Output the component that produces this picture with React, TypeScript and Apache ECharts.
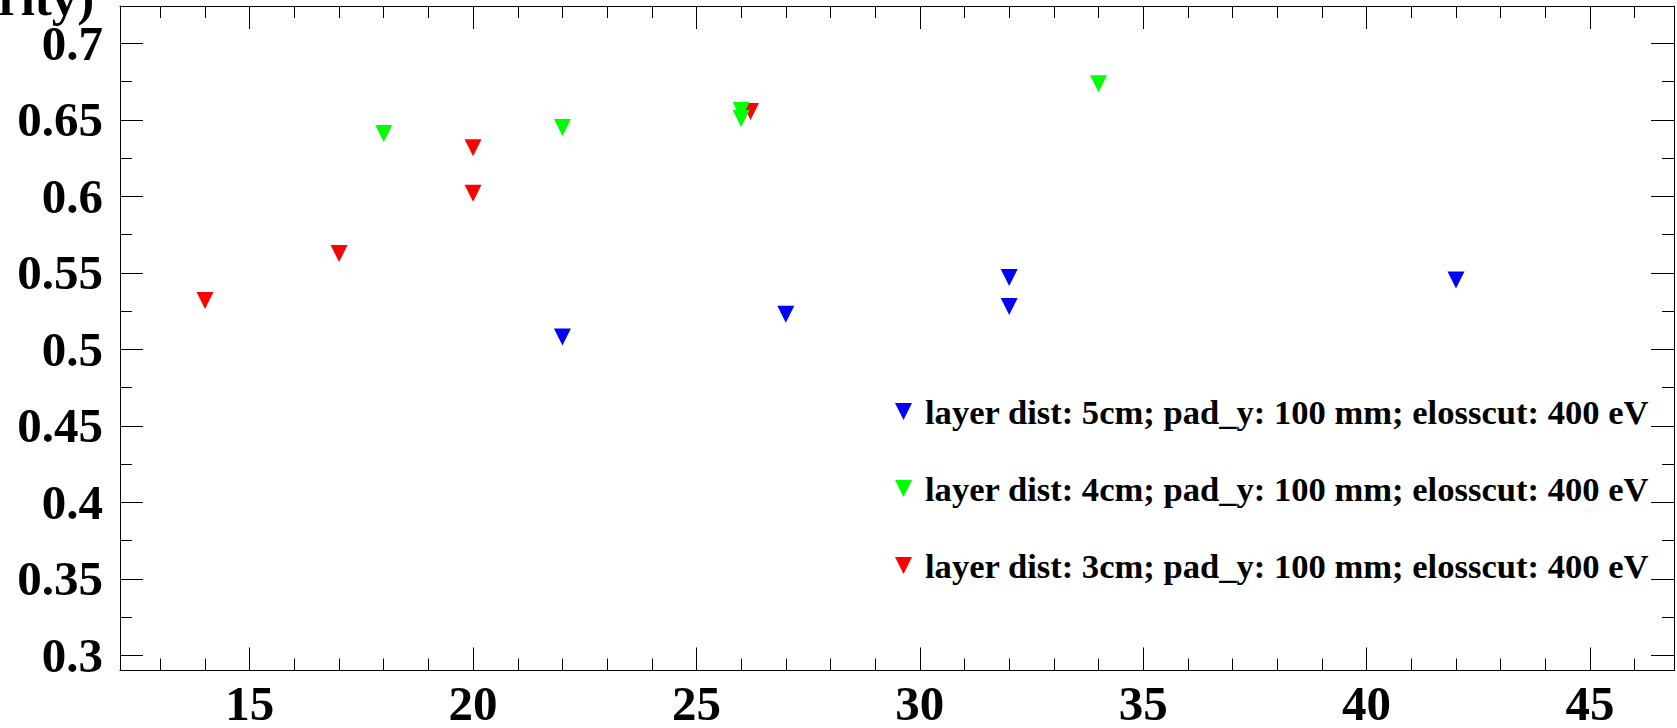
import React, { useEffect, useRef } from "react";
import * as echarts from "echarts";

// ---- data ----
const blueX = [22, 27, 32, 32, 42];
const blueY = [0.508, 0.523, 0.547, 0.528, 0.5453];
const greenX = [18, 22, 26, 26, 34];
const greenY = [0.641, 0.645, 0.656, 0.6508, 0.6735];
const redX = [14, 17, 20, 20, 26.21];
const redY = [0.532, 0.5626, 0.602, 0.6317, 0.6554];

const blueName = "layer dist: 5cm; pad_y: 100 mm; elosscut: 400 eV";
const greenName = "layer dist: 4cm; pad_y: 100 mm; elosscut: 400 eV";
const redName = "layer dist: 3cm; pad_y: 100 mm; elosscut: 400 eV";

const xRange = [12.097, 46.88];
const yRange = [0.29022, 0.72431];
const xStep = 5;
const yStep = 0.05;
const yAxisTitle = "rity)";

const FONT = "Liberation Serif";
const TRI = "path://M0,0L10,0L5,10Z";

function isMultiple(v: number, step: number) {
  const r = v / step;
  return Math.abs(r - Math.round(r)) < 1e-6;
}

function makeAxisX(position: "bottom" | "top", showLabel: boolean) {
  return {
    type: "value",
    position,
    min: xRange[0],
    max: xRange[1],
    minInterval: xStep,
    maxInterval: xStep,
    splitNumber: 6,
    axisLine: { show: true, onZero: false, lineStyle: { color: "#000", width: 1 } },
    axisTick: { show: true, inside: true, length: 23, lineStyle: { color: "#000", width: 1 } },
    minorTick: { show: true, splitNumber: 5, length: 12, lineStyle: { color: "#000", width: 1 } },
    splitLine: { show: false },
    minorSplitLine: { show: false },
    axisLabel: {
      show: showLabel,
      margin: 15,
      color: "#000",
      fontFamily: FONT,
      fontWeight: "bold",
      fontSize: 49,
      lineHeight: 36,
      hideOverlap: false,
      formatter: (v: number) => (isMultiple(v, xStep) ? String(Math.round(v)) : ""),
    },
  };
}

function makeAxisY(position: "left" | "right", showLabel: boolean) {
  return {
    type: "value",
    position,
    min: yRange[0],
    max: yRange[1],
    minInterval: yStep,
    maxInterval: yStep,
    splitNumber: 8,
    axisLine: { show: true, onZero: false, lineStyle: { color: "#000", width: 1 } },
    axisTick: { show: true, inside: true, length: 23, lineStyle: { color: "#000", width: 1 } },
    minorTick: { show: true, splitNumber: 2, length: 12, lineStyle: { color: "#000", width: 1 } },
    splitLine: { show: false },
    minorSplitLine: { show: false },
    axisLabel: {
      show: showLabel,
      margin: 17,
      color: "#000",
      fontFamily: FONT,
      fontWeight: "bold",
      fontSize: 49,
      lineHeight: 38,
      hideOverlap: false,
      formatter: (v: number) =>
        isMultiple(v, yStep) ? String(parseFloat(v.toFixed(2))) : "",
    },
  };
}

function scatter(name: string, xs: number[], ys: number[], color: string) {
  return {
    type: "scatter",
    name,
    xAxisIndex: 0,
    yAxisIndex: 0,
    data: xs.map((x, i) => [x, ys[i]]),
    symbol: TRI,
    symbolSize: 17,
    itemStyle: { color, opacity: 1 },
    emphasis: { disabled: true },
    clip: false,
  };
}

export default function App() {
  const ref = useRef<HTMLDivElement>(null);
  useEffect(() => {
    if (!ref.current) return;
    const chart = echarts.init(ref.current, undefined, { renderer: "svg" });
    chart.setOption({
      animation: false,
      backgroundColor: "#fff",
      grid: { left: 120, top: 6, right: -9, bottom: 56, containLabel: false },
      xAxis: [makeAxisX("bottom", true), makeAxisX("top", false)],
      yAxis: [makeAxisY("left", true), makeAxisY("right", false)],
      legend: {
        data: [blueName, greenName, redName],
        orient: "vertical",
        left: 895,
        top: 394,
        padding: 0,
        itemGap: 42,
        itemWidth: 17,
        itemHeight: 17,
        icon: TRI,
        selectedMode: false,
        textStyle: {
          fontFamily: FONT,
          fontWeight: "bold",
          fontSize: 34.6,
          lineHeight: 34,
          color: "#000",
          padding: [0, 0, 0, 8],
        },
      },
      graphic: [
        {
          type: "text",
          x: -2,
          y: -2.5,
          style: {
            text: yAxisTitle,
            fill: "#000",
            fontFamily: FONT,
            fontWeight: "bold",
            fontSize: 51,
            lineHeight: 24,
            align: "left",
            verticalAlign: "middle",
          },
        },
      ],
      series: [
        scatter(redName, redX, redY, "#ff0000"),
        scatter(greenName, greenX, greenY, "#00ff00"),
        scatter(blueName, blueX, blueY, "#0000ff"),
      ],
    });
    return () => chart.dispose();
  }, []);
  return (
    <div
      ref={ref}
      style={{ position: "absolute", left: 0, top: 0, width: 1677, height: 728, overflow: "hidden" }}
    />
  );
}
